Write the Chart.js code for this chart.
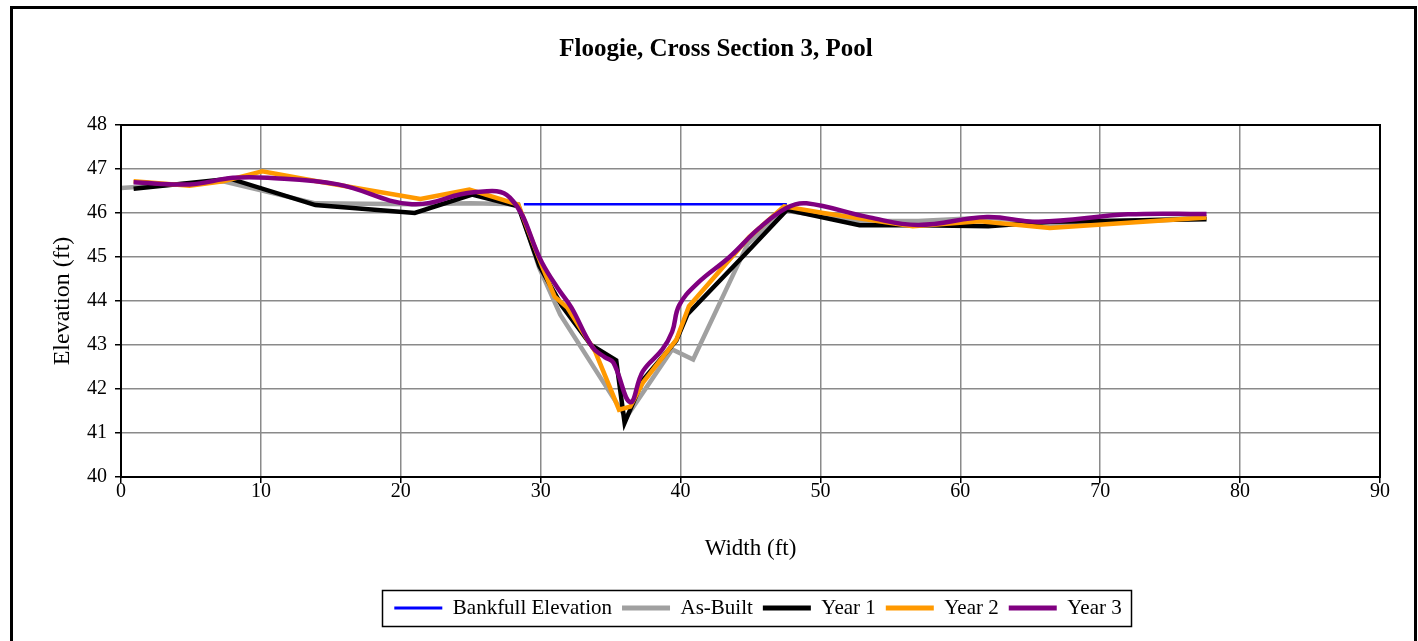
<!DOCTYPE html>
<html>
<head>
<meta charset="utf-8">
<title>Floogie, Cross Section 3, Pool</title>
<script src="https://cdn.jsdelivr.net/npm/chart.js@4.4.1/dist/chart.umd.min.js"></script>
<style>
  html, body { margin: 0; padding: 0; background: #fff; }
  #wrap { position: relative; width: 1418px; height: 641px; }
</style>
</head>
<body>
<div id="wrap"><canvas id="xsChart"></canvas></div>
<script>
// series names, in legend order
var seriesNames = ['Bankfull Elevation', 'As-Built', 'Year 1', 'Year 2', 'Year 3'];

// station (ft) and elevation (ft) for each survey
var bankfullX = [28.8, 43.8, 47.6];
var bankfullY = [46.2, 46.2, 46.2];

var asBuiltX = [0, 7.3, 13.9, 21.0, 25.0, 28.4, 29.9, 31.4, 36.1, 39.4, 40.9, 44.8, 47.5, 52.8, 57.0, 62.0, 66.5, 77.6];
var asBuiltY = [46.57, 46.72, 46.22, 46.2, 46.22, 46.2, 44.75, 43.69, 41.35, 42.9, 42.67, 45.3, 46.05, 45.82, 45.82, 45.9, 45.75, 45.9];

var year1X = [0.9, 7.8, 13.9, 21.0, 25.1, 28.4, 29.9, 31.5, 33.6, 35.4, 36.0, 37.3, 39.7, 40.5, 44.7, 47.6, 52.8, 57.0, 62.0, 66.4, 77.6];
var year1Y = [46.55, 46.78, 46.18, 46.0, 46.42, 46.15, 44.8, 43.9, 43.0, 42.65, 41.23, 42.2, 43.1, 43.7, 45.09, 46.07, 45.72, 45.72, 45.7, 45.8, 45.86];

var year2X = [0.9, 4.9, 7.3, 10.1, 14.0, 21.4, 24.9, 28.4, 30.1, 31.0, 31.9, 33.9, 35.6, 36.4, 37.3, 39.7, 40.6, 44.9, 47.4, 50.2, 56.6, 61.4, 66.4, 77.6];
var year2Y = [46.72, 46.62, 46.72, 46.95, 46.72, 46.32, 46.53, 46.19, 44.79, 44.1, 43.85, 42.85, 41.53, 41.6, 42.14, 43.12, 43.88, 45.45, 46.15, 46.0, 45.7, 45.81, 45.66, 45.9];

var year3X = [0.9, 4.9, 8.0, 10.5, 15.5, 20.8, 25.2, 27.8, 30.1, 31.2, 32.2, 33.7, 34.6, 35.2, 36.4, 37.3, 38.7, 39.4, 39.9, 41.2, 43.5, 45.6, 47.6, 49.0, 53.5, 57.0, 61.9, 65.6, 72.0, 77.6];
var year3Y = [46.7, 46.65, 46.8, 46.8, 46.65, 46.2, 46.47, 46.35, 44.87, 44.3, 43.85, 42.95, 42.72, 42.6, 41.7, 42.4, 42.9, 43.3, 43.9, 44.4, 45.0, 45.65, 46.12, 46.22, 45.9, 45.73, 45.91, 45.8, 45.97, 45.98];

// axis ranges
var xAxisMin = 0, xAxisMax = 90, xStep = 10;
var yAxisMin = 40, yAxisMax = 48, yStep = 1;

var serifFont = '"Liberation Serif", "Times New Roman", Times, serif';
var legendFontSize = 21;

function toPoints(xs, ys) {
    return xs.map(function (x, i) { return { x: x, y: ys[i] }; });
}

var seriesColors = ['#0000ff', '#a0a0a0', '#000000', '#ff9900', '#800080'];
var seriesWidths = [2.5, 4.5, 4.5, 4.5, 4.5];

// plot frame, legend frame and outer border
var framePlugin = {
    id: 'frames',
    afterLayout: function (chart) {
        var lg = chart.legend;
        var shift = 758 - (lg.left + lg.right) / 2;
        lg.left += shift;
        lg.right += shift;
        // title sits a little right of the canvas centre
        var tb = chart.titleBlock;
        var tshift = 716 - (tb.left + tb.right) / 2;
        tb.left += tshift;
        tb.right += tshift;
    },
    afterDraw: function (chart) {
        var ctx = chart.ctx, a = chart.chartArea, lg = chart.legend;
        ctx.save();
        ctx.strokeStyle = '#000';
        ctx.lineWidth = 2;
        ctx.strokeRect(a.left, a.top, a.right - a.left, a.bottom - a.top);

        var pad = lg.options.labels.padding;
        var start = (lg.left + pad + lg.right - lg.lineWidths[0]) / 2;
        var end = start + lg.lineWidths[0] - pad;
        var cy = lg.top + pad + legendFontSize / 2;
        ctx.lineWidth = 1.5;
        ctx.strokeRect(Math.round(start - 12) + 0.5, Math.round(cy - 18) + 0.5, Math.round(end - start + 22), 36);

        ctx.lineWidth = 3;
        ctx.strokeRect(11.5, 7.5, 1404, 700);
        ctx.restore();
    }
};

Chart.defaults.color = '#000';
Chart.defaults.font.family = serifFont;

var ctx = document.getElementById('xsChart').getContext('2d');

var allX = [bankfullX, asBuiltX, year1X, year2X, year3X];
var allY = [bankfullY, asBuiltY, year1Y, year2Y, year3Y];

var datasets = seriesNames.map(function (name, i) {
    return {
        label: name,
        data: toPoints(allX[i], allY[i]),
        showLine: true,
        borderColor: seriesColors[i],
        backgroundColor: seriesColors[i],
        borderWidth: seriesWidths[i],
        pointRadius: 0,
        pointHoverRadius: 0,
        tension: i === 4 ? 0.4 : 0,
        order: seriesNames.length - i
    };
});

var chart = new Chart(ctx, {
    type: 'scatter',
    data: { datasets: datasets },
    plugins: [framePlugin],
    options: {
        responsive: true,
        maintainAspectRatio: false,
        animation: false,
        layout: { padding: { left: 0, right: 38, top: 0, bottom: 12.5 } },
        scales: {
            x: {
                type: 'linear',
                min: xAxisMin,
                max: xAxisMax,
                ticks: { stepSize: xStep, padding: -3, font: { size: 20 } },
                grid: { color: '#8a8a8a', lineWidth: 1.5, tickColor: '#000', tickLength: 6, tickWidth: 1.5 },
                border: { color: '#000', width: 2 },
                title: { display: true, text: 'Width (ft)', font: { size: 23 }, padding: { top: 0, bottom: 25 } },
                afterFit: function (scale) { scale.height = 110.5; }
            },
            y: {
                min: yAxisMin,
                max: yAxisMax,
                ticks: { stepSize: yStep, padding: 8, font: { size: 20 } },
                grid: { color: '#8a8a8a', lineWidth: 1.5, tickColor: '#000', tickLength: 6, tickWidth: 1.5 },
                border: { color: '#000', width: 2 },
                title: { display: true, text: 'Elevation (ft)', font: { size: 24 }, padding: { top: 48.6, bottom: 0 } },
                afterFit: function (scale) { scale.width = 121; }
            }
        },
        plugins: {
            title: {
                display: true,
                text: 'Floogie, Cross Section 3, Pool',
                font: { size: 25, weight: 'bold' },
                padding: { top: 35, bottom: 60 }
            },
            legend: {
                position: 'bottom',
                labels: {
                    font: { size: legendFontSize },
                    padding: 10,
                    usePointStyle: true,
                    pointStyleWidth: 48,
                    generateLabels: function (chart) {
                        return seriesNames.map(function (name, i) {
                            return {
                                text: name,
                                fillStyle: seriesColors[i],
                                strokeStyle: seriesColors[i],
                                lineWidth: seriesWidths[i] + 0.5,
                                pointStyle: 'line',
                                fontColor: '#000',
                                hidden: false,
                                datasetIndex: i
                            };
                        });
                    }
                }
            },
            tooltip: { enabled: false }
        }
    }
});
</script>
</body>
</html>
